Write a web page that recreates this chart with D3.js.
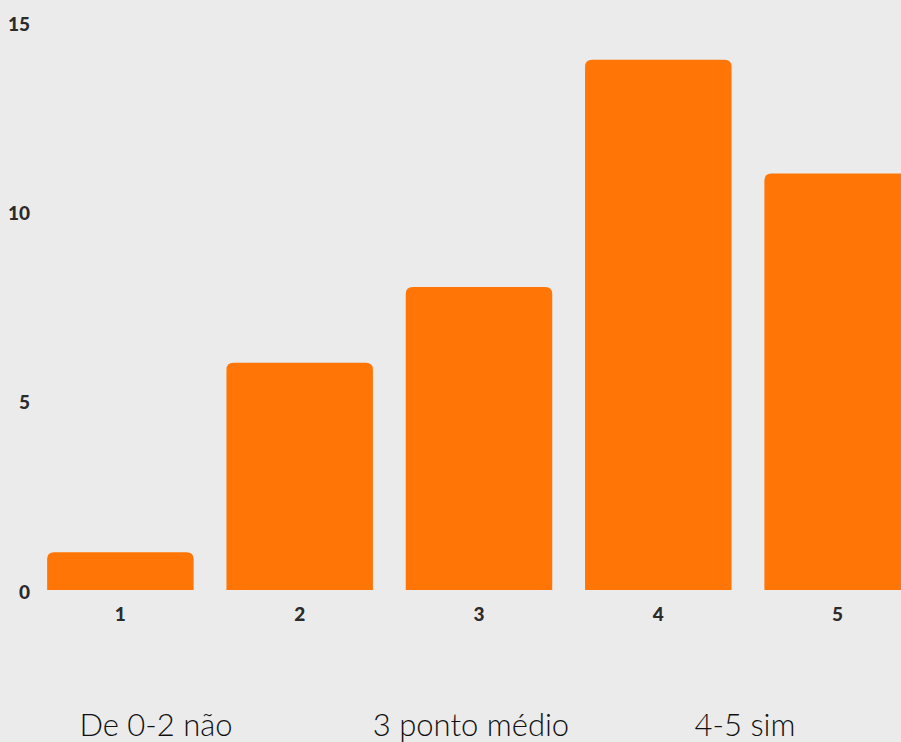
<!DOCTYPE html>
<html><head><meta charset="utf-8">
<script src="https://cdn.jsdelivr.net/npm/d3@7"></script>
<style>
html,body{margin:0;padding:0;background:#ebebeb;}
svg{display:block;}
</style></head>
<body>
<script>
const categories = ["1","2","3","4","5"];
const values = [1,6,8,14,11];
const yTicks = [0,5,10,15];
const notes = ["De 0-2 não","3 ponto médio","4-5 sim"];
const noteX = [156, 471, 745];

const W = 901, H = 742;
const svg = d3.select("body").append("svg").attr("width", W).attr("height", H);
svg.append("rect").attr("width", W).attr("height", H).attr("fill", "#ebebeb");

const x = d3.scaleBand().domain(categories).range([31, 927]).paddingInner(0.183).paddingOuter(0.09);
const y = d3.scaleLinear().domain([0, 15]).range([590, 22]);

const r = 7;
function barPath(x0, w, yTop, yBot){
  return `M${x0},${yBot}V${yTop+r}Q${x0},${yTop} ${x0+r},${yTop}H${x0+w-r}Q${x0+w},${yTop} ${x0+w},${yTop+r}V${yBot}Z`;
}
svg.selectAll("path.bar").data(values).enter().append("path")
  .attr("class","bar")
  .attr("fill", "#ff7506")
  .attr("d", (d,i) => barPath(x(categories[i]), x.bandwidth(), y(d), y(0)));

const font = "Lato, 'Open Sans', sans-serif";
const yAxis = svg.append("g").attr("transform","translate(30,2)")
  .call(d3.axisLeft(y).tickValues(yTicks).tickSize(0).tickPadding(0));
yAxis.select(".domain").remove();
yAxis.selectAll("text").attr("font-family", font).attr("font-weight", 900)
  .attr("font-size", 19).attr("fill", "#2b2b2b");

const xAxis = svg.append("g").attr("transform", `translate(0,${y(0)})`)
  .call(d3.axisBottom(x).tickSize(0).tickPadding(18));
xAxis.select(".domain").remove();
xAxis.selectAll("text").attr("font-family", font).attr("font-weight", 900)
  .attr("font-size", 19).attr("fill", "#2b2b2b");

svg.selectAll("text.note").data(notes).enter().append("text")
  .attr("class","note")
  .attr("x", (d,i) => noteX[i]).attr("y", 736)
  .attr("text-anchor","middle")
  .attr("font-family", font).attr("font-size", 31).attr("font-weight", 300)
  .attr("fill", "#111")
  .text(d => d);
</script>
</body></html>
